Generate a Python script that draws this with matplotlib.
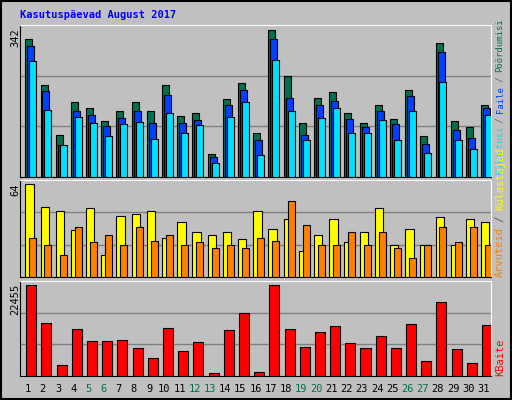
import numpy as np
import matplotlib
matplotlib.use('Agg')
import matplotlib.pyplot as plt

days    = [str(d) for d in range(1, 32)]
weekend = [5, 6, 12, 13, 19, 20, 26, 27]

# (top panel scaled so max = 342)
hits  = [321, 214, 98, 175, 159, 131, 152, 175, 152, 214, 142, 149, 54, 182, 219, 101,
         342, 235, 126, 184, 198, 149, 126, 168, 135, 203, 94, 310, 131, 117, 168]
files = [303, 199, 74, 152, 145, 119, 138, 154, 126, 191, 126, 133, 47, 168, 203, 87,
         321, 184, 98, 166, 177, 135, 115, 152, 124, 189, 77, 291, 108, 91, 161]
pages = [268, 155, 75, 140, 126, 96, 124, 128, 89, 149, 103, 121, 33, 140, 175, 52,
         272, 154, 87, 138, 159, 103, 103, 133, 87, 154, 56, 221, 87, 66, 145]
visits = [64, 48, 45, 32, 47, 15, 42, 43, 45, 27, 38, 31, 29, 31, 26, 45,
          33, 40, 18, 29, 40, 24, 31, 47, 22, 33, 22, 41, 22, 40, 38]
hosts  = [27, 22, 15, 34, 24, 29, 22, 34, 25, 29, 22, 24, 20, 22, 20, 27,
          25, 52, 36, 22, 22, 31, 22, 31, 20, 13, 22, 34, 24, 34, 22]
kbytes = [22455, 13111, 2786, 11636, 8681, 8681, 8927, 6966, 4508, 11882, 6228, 8441, 819, 11391,
          15571, 1065, 22455, 11636, 7212, 10899, 12374, 8195, 6966, 9916, 6966, 12866, 3770,
          18274, 6720, 3278, 12620]

bg = '#c0c0c0'
W, H = 512, 400
fig = plt.figure(figsize=(W / 100, H / 100), dpi=100, facecolor=bg)

def panel(top, bottom):
    ax = fig.add_axes([20 / W, 1 - bottom / H, 471 / W, (bottom - top) / H])
    ax.set_facecolor(bg)
    ax.set_xlim(-0.5, 30.5)
    ax.set_xticks([])
    ax.set_yticks([])
    for s in ['left', 'bottom']:
        ax.spines[s].set_color('black')
    for s in ['top', 'right']:
        ax.spines[s].set_color('white')
    return ax

x = np.arange(31)
kw = dict(align='edge', edgecolor='black', linewidth=0.8, zorder=3)

ax1 = panel(25, 177)
ax1.set_ylim(0, 342 * 152 / 147.4)
for g in [1, 2]:
    ax1.axhline(342 * 152 / 147.4 * g / 3, color='#808080', lw=1, zorder=1)
ax1.bar(x - 0.15, hits, 0.46, color='#007050', **kw)
ax1.bar(x - 0.02, files, 0.46, color='#0040ff', **kw)
ax1.bar(x + 0.11, pages, 0.46, color='#00e0ff', **kw)

ax2 = panel(180, 277)
ymax2 = 64 * 287 / 276
ax2.set_ylim(0, ymax2)
for g in [1, 2]:
    ax2.axhline(ymax2 * g / 3, color='#808080', lw=1, zorder=1)
ax2.bar(x - 0.15, visits, 0.55, color='#ffff00', **kw)
ax2.bar(x + 0.11, hosts, 0.46, color='#ff8000', **kw)

ax3 = panel(281, 376)
ymax3 = 22455 * 287 / 274
ax3.set_ylim(0, ymax3)
for g in [1, 2]:
    ax3.axhline(ymax3 * g / 3, color='#808080', lw=1, zorder=1)
ax3.bar(x - 0.09, kbytes, 0.66, color='#ff0000', **kw)

mono = 'DejaVu Sans Mono'
fig.text(20 / W, 1 - 15 / H, 'Kasutuspäevad August 2017', color='#0000ff',
         fontsize=7.5, fontweight='bold', family=mono, va='center')
for y, lab in [(28, '342'), (183, '64'), (284, '22455')]:
    fig.text(15 / W, 1 - y / H, lab, rotation=90, fontsize=7.5, family=mono,
             ha='center', va='top')

# day labels
for i, d in enumerate(days):
    col = '#007050' if (i + 1) in weekend else 'black'
    fig.text((20 + 471 * (i + 0.5) / 31) / W, 1 - 389 / H, d, color=col,
             fontsize=7.5, family=mono, ha='center', va='center')

# right-side legends, stacked bottom to top
def vstack(parts, ybottom, size=7.5, step=6.1):
    y = ybottom
    for txt, col in parts:
        fig.text(500 / W, 1 - y / H, txt, color=col, rotation=90,
                 fontsize=size, family=mono, ha='center', va='bottom')
        y -= len(txt) * step

vstack([('Külastusi', '#00e0ff'), (' / ', '#606060'), ('Faile', '#0040ff'),
        (' / ', '#606060'), ('Pöördumisi', '#007050')], 174, size=6.4, step=5.1)
vstack([('Arvuteid', '#ff8000'), (' / ', '#606060'), ('Külastajad', '#ffff00')], 277)
vstack([('KBaite', '#ff0000')], 376)

# outer frame
fig.patches.append(plt.Rectangle((0.002, 0.002), 0.996, 0.996, transform=fig.transFigure,
                                 fill=False, edgecolor='black', lw=1.5))
fig.savefig('out.png', dpi=100, facecolor=bg)
